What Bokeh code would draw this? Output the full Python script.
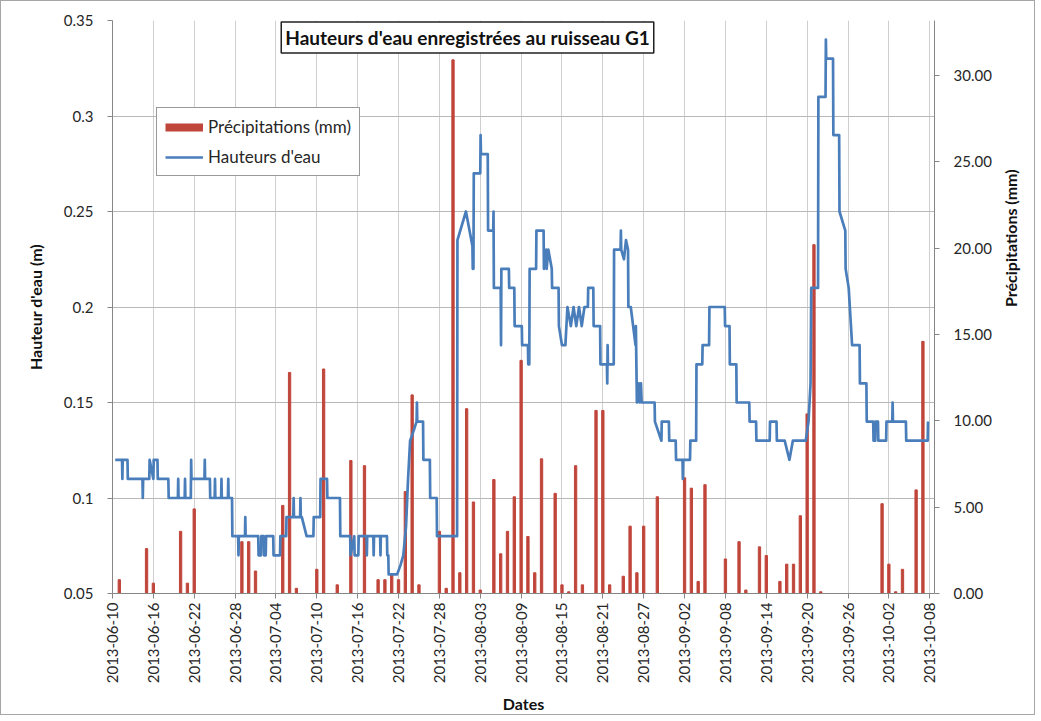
import math
from datetime import datetime, timedelta
from bokeh.plotting import figure
from bokeh.models import (Range1d, LinearAxis, FixedTicker, NumeralTickFormatter,
                          DatetimeTickFormatter, Label, Legend, LegendItem)
from bokeh.embed import file_html
from bokeh.resources import INLINE

# ---------------- data ----------------
START = datetime(2013, 6, 10)

tick_dates = ["2013-06-10", "2013-06-16", "2013-06-22", "2013-06-28", "2013-07-04",
              "2013-07-10", "2013-07-16", "2013-07-22", "2013-07-28", "2013-08-03",
              "2013-08-09", "2013-08-15", "2013-08-21", "2013-08-27", "2013-09-02",
              "2013-09-08", "2013-09-14", "2013-09-20", "2013-09-26", "2013-10-02",
              "2013-10-08"]

left_ticks = [0.05, 0.1, 0.15, 0.2, 0.25, 0.3, 0.35]
right_ticks = [0, 5, 10, 15, 20, 25, 30]

rain_dates = ["2013-06-11", "2013-06-15", "2013-06-16", "2013-06-20", "2013-06-21",
              "2013-06-22", "2013-06-29", "2013-06-30", "2013-07-01", "2013-07-05",
              "2013-07-06", "2013-07-07", "2013-07-10", "2013-07-11", "2013-07-13",
              "2013-07-15", "2013-07-17", "2013-07-19", "2013-07-20", "2013-07-21",
              "2013-07-22", "2013-07-23", "2013-07-24", "2013-07-25", "2013-07-28",
              "2013-07-29", "2013-07-30", "2013-07-31", "2013-08-01", "2013-08-02",
              "2013-08-03", "2013-08-05", "2013-08-06", "2013-08-07", "2013-08-08",
              "2013-08-09", "2013-08-10", "2013-08-11", "2013-08-12", "2013-08-14",
              "2013-08-15", "2013-08-16", "2013-08-17", "2013-08-18", "2013-08-20",
              "2013-08-21", "2013-08-22", "2013-08-24", "2013-08-25", "2013-08-26",
              "2013-08-27", "2013-08-29", "2013-09-02", "2013-09-03", "2013-09-04",
              "2013-09-05", "2013-09-08", "2013-09-10", "2013-09-11", "2013-09-13",
              "2013-09-14", "2013-09-16", "2013-09-17", "2013-09-18", "2013-09-19",
              "2013-09-20", "2013-09-21", "2013-09-22", "2013-10-01", "2013-10-02",
              "2013-10-03", "2013-10-04", "2013-10-06", "2013-10-07"]
rain_mm = [0.8, 2.6, 0.6, 3.6, 0.6,
           4.9, 3.0, 3.0, 1.3, 5.1,
           12.8, 0.3, 1.4, 13.0, 0.5,
           7.7, 7.4, 0.8, 0.8, 1.1,
           0.8, 5.9, 11.5, 0.5, 3.6,
           0.3, 30.9, 1.2, 10.7, 5.3,
           0.2, 6.6, 2.3, 3.6, 5.6,
           13.5, 3.3, 1.2, 7.8, 5.8,
           0.5, 0.1, 7.4, 0.5, 10.6,
           10.6, 0.5, 1.0, 3.9, 1.2,
           3.9, 5.6, 6.7, 6.1, 0.7,
           6.3, 2.0, 3.0, 0.2, 2.7,
           2.2, 0.7, 1.7, 1.7, 4.5,
           10.4, 20.2, 0.1, 5.2, 1.7,
           0.1, 1.4, 6.0, 14.6]

# water level: days since 2013-06-10 and height (m)
level_day = [0.4, 1.4, 1.45, 1.5, 2.2, 2.25, 4.4, 4.45, 4.5, 5.4, 5.45, 6.0, 6.05, 6.6, 6.65,
             8.2, 8.25, 9.6, 9.65, 9.7, 10.6, 10.65, 10.7, 11.5, 11.55, 11.6, 13.5, 13.55,
             13.6, 14.3, 14.35, 15.0, 15.05, 15.1, 15.95, 16.0, 16.05, 16.95, 17.0, 17.05,
             17.55, 17.6,
             18.45, 18.5, 18.55, 19.45, 19.5, 19.55, 21.4, 21.45, 21.8, 21.85, 22.2, 22.25,
             22.5, 22.55, 23.6, 23.65, 24.6, 24.65, 25.5, 25.55, 26.55, 26.6, 26.65, 27.55,
             27.6, 27.65, 27.8, 28.5, 29.5, 29.55, 30.5, 30.55, 31.5, 31.55, 33.4, 33.45,
             34.9, 34.95, 35.5, 35.55, 36.1, 36.15, 37.3, 37.35, 37.4, 38.3, 38.35, 38.4,
             39.3, 39.35, 39.4, 40.3, 40.35, 40.5, 40.55, 41.8, 42.3, 42.7, 43.1, 43.4,
             43.7, 44.2, 44.65, 44.7, 44.75, 45.6, 45.65, 46.6, 46.65, 47.6, 47.65, 50.6,
             50.65,
             51.9, 52.85, 52.9, 53.0, 53.05, 54.0, 54.05, 54.1, 55.1, 55.15, 55.9, 55.95,
             56.0, 57.0, 57.05, 57.1, 58.2, 58.25, 59.0, 59.05, 60.1, 60.15, 61.0, 61.05,
             61.2, 61.25, 62.2, 62.25, 63.3, 63.35, 63.7, 63.75, 64.0, 64.5, 64.55, 65.5,
             65.55, 66.0, 66.5, 66.8, 67.3, 67.7, 68.1, 68.5, 68.9, 69.3, 69.8, 69.85,
             70.6, 70.65, 71.6, 71.65, 72.6, 72.65, 72.7, 72.75, 73.6, 73.65, 74.6, 74.65,
             74.7, 75.1, 75.4, 75.7, 75.75, 76.1, 76.8, 76.85, 77.0, 77.3, 77.4, 77.6, 77.7,
             79.6, 79.65, 80.6, 80.65, 81.7, 81.75, 82.7, 82.75, 83.7, 83.75, 83.8, 84.8,
             84.85, 85.7, 85.75, 86.6, 86.65, 87.6, 87.65, 89.9, 89.95, 90.6, 90.65, 91.6,
             91.65, 93.5, 93.55, 94.5, 94.55, 96.5, 96.55, 97.5, 97.55, 98.7, 99.4, 99.9,
             101.8, 102.2, 102.5, 102.6, 103.6, 103.65, 104.7, 104.75, 104.8, 105.8, 105.85,
             106.7, 106.75, 107.6, 107.65, 108.1, 108.6, 109.7, 109.75, 110.7, 110.75,
             111.7, 111.75, 112.0, 112.05, 112.4, 112.45, 113.6, 113.65, 114.5, 114.55,
             114.6, 116.5, 116.55, 119.7, 119.75]
level_m = [0.12, 0.12, 0.11, 0.12, 0.12, 0.11, 0.11, 0.10, 0.11, 0.11, 0.12, 0.11, 0.12, 0.12, 0.11,
           0.11, 0.10, 0.10, 0.11, 0.10, 0.10, 0.11, 0.10, 0.10, 0.12, 0.11, 0.11, 0.12,
           0.11, 0.11, 0.10, 0.10, 0.11, 0.10, 0.10, 0.11, 0.10, 0.10, 0.11, 0.10,
           0.10, 0.08,
           0.08, 0.07, 0.08, 0.08, 0.09, 0.08, 0.08, 0.07, 0.07, 0.08, 0.08, 0.07,
           0.07, 0.08, 0.08, 0.07, 0.07, 0.08, 0.08, 0.09, 0.09, 0.10, 0.09, 0.09,
           0.10, 0.09, 0.09, 0.08, 0.08, 0.09, 0.09, 0.11, 0.11, 0.10, 0.10, 0.08,
           0.08, 0.07, 0.08, 0.07, 0.07, 0.08, 0.08, 0.07, 0.08, 0.08, 0.07, 0.08,
           0.08, 0.07, 0.08, 0.08, 0.07, 0.07, 0.06, 0.06, 0.065, 0.07, 0.085, 0.11,
           0.13, 0.135, 0.14, 0.15, 0.14, 0.14, 0.12, 0.12, 0.10, 0.10, 0.08, 0.08,
           0.235,
           0.25, 0.232, 0.22, 0.22, 0.27, 0.27, 0.29, 0.28, 0.28, 0.24, 0.24, 0.25,
           0.21, 0.21, 0.18, 0.22, 0.22, 0.21, 0.21, 0.19, 0.19, 0.18, 0.18, 0.17,
           0.17, 0.22, 0.22, 0.24, 0.24, 0.22, 0.23, 0.22, 0.23, 0.22, 0.21, 0.21,
           0.19, 0.18, 0.18, 0.20, 0.19, 0.20, 0.19, 0.20, 0.19, 0.20, 0.20, 0.21,
           0.21, 0.19, 0.19, 0.17, 0.17, 0.16, 0.18, 0.17, 0.17, 0.23, 0.23, 0.24,
           0.23, 0.225, 0.235, 0.23, 0.20, 0.20, 0.18, 0.19, 0.15, 0.16, 0.15, 0.16, 0.15,
           0.15, 0.14, 0.13, 0.14, 0.14, 0.13, 0.13, 0.12, 0.12, 0.11, 0.12, 0.12,
           0.13, 0.13, 0.17, 0.17, 0.18, 0.18, 0.20, 0.20, 0.19, 0.19, 0.17, 0.17,
           0.15, 0.15, 0.14, 0.14, 0.13, 0.13, 0.14, 0.14, 0.13, 0.13, 0.12, 0.13,
           0.13, 0.14, 0.16, 0.21, 0.21, 0.31, 0.31, 0.34, 0.33, 0.33, 0.29,
           0.29, 0.25, 0.24, 0.22, 0.21, 0.18, 0.18, 0.16, 0.16, 0.14,
           0.14, 0.13, 0.13, 0.14, 0.14, 0.13, 0.13, 0.14, 0.14, 0.15,
           0.14, 0.14, 0.13, 0.13, 0.14]

# ---------------- figure ----------------
FONT = "Lato"
TEXT = "#262626"
RED = "#C0453A"
BLUE = "#4A7EBB"

def to_dt(s):
    return datetime.strptime(s, "%Y-%m-%d")

tick_ms = [(to_dt(s) - datetime(1970, 1, 1)).total_seconds() * 1000 for s in tick_dates]
rain_x = [to_dt(s) for s in rain_dates]
level_x = [START + timedelta(days=d) for d in level_day]

p = figure(width=1035, height=715, x_axis_type="datetime",
           output_backend="svg", toolbar_location=None,
           x_range=Range1d(START, START + timedelta(days=120.7)),
           y_range=Range1d(0.05, 0.35),
           min_border_left=111, min_border_right=102,
           min_border_top=19, min_border_bottom=122)
p.styles = {"border": "1px solid #A6A6A6"}
p.outline_line_color = None
p.background_fill_color = "white"
p.border_fill_color = "white"

p.extra_y_ranges = {"rain": Range1d(0, 33.18)}

bars = p.vbar(x=rain_x, top=rain_mm, bottom=0, width=0.34 * 86400000,
              color=RED, y_range_name="rain")
line = p.line(x=level_x, y=level_m, line_color=BLUE, line_width=2.7,
              line_join="round")
# legend key for the bars: a flat bar like the original legend
# (single point below the visible range, so nothing is drawn in the plot)
swatch = p.line(x=[START], y=[0.0], line_color=RED, line_width=8, line_cap="butt")

# axes
xt = FixedTicker(ticks=tick_ms)
p.xaxis.ticker = xt
p.xgrid.ticker = xt
p.xaxis.formatter = DatetimeTickFormatter(days="%Y-%m-%d", months="%Y-%m-%d",
                                          years="%Y-%m-%d", hours="%Y-%m-%d")
p.xaxis.major_label_orientation = math.pi / 2
p.xaxis.axis_label = "Dates"

yt = FixedTicker(ticks=left_ticks)
p.yaxis.ticker = yt
p.ygrid.ticker = yt
p.yaxis.formatter = NumeralTickFormatter(format="0.0[0]")
p.yaxis.axis_label = "Hauteur d'eau (m)"

raxis = LinearAxis(y_range_name="rain", ticker=FixedTicker(ticks=right_ticks),
                   formatter=NumeralTickFormatter(format="0.00"),
                   axis_label="Précipitations (mm)")
p.add_layout(raxis, "right")
raxis.axis_label_orientation = math.pi / 2

for ax in [p.xaxis[0], p.yaxis[0], raxis]:
    ax.axis_line_color = "#868686"
    ax.major_tick_line_color = "#868686"
    ax.major_tick_out = 5
    ax.major_tick_in = 0
    ax.minor_tick_out = 0
    ax.minor_tick_in = 0
    ax.major_label_text_font = FONT
    ax.major_label_text_color = TEXT
    ax.major_label_text_font_size = "15px"
    ax.axis_label_text_font = FONT
    ax.axis_label_text_font_style = "bold"
    ax.axis_label_text_color = "#111111"
    ax.axis_label_text_font_size = "16px"

p.xaxis.major_label_standoff = 4
p.xaxis.axis_label_standoff = 8
p.yaxis.major_label_standoff = 14
p.yaxis.axis_label_standoff = 16
raxis.major_label_standoff = 14
raxis.axis_label_standoff = 16

p.xgrid.grid_line_color = "#CFCFCF"
p.ygrid.grid_line_color = "#B8B8B8"

# title box
title = Label(x=355, y=556, x_units="screen", y_units="screen",
              text="Hauteurs d'eau enregistrées au ruisseau G1",
              text_font=FONT, text_font_style="bold", text_font_size="19px",
              text_color="#111111", text_align="center", text_baseline="middle",
              background_fill_color="white", border_line_color="#222222",
              border_line_width=1.5, padding=4)
p.add_layout(title)

legend = Legend(items=[LegendItem(label="Précipitations (mm)", renderers=[swatch]),
                       LegendItem(label="Hauteurs d'eau", renderers=[line])],
                location=(44, 417), glyph_width=38, glyph_height=20,
                label_text_font=FONT, label_text_font_size="17px",
                label_text_color=TEXT, label_standoff=5, label_height=20,
                spacing=9, padding=8, margin=0,
                border_line_color="#333333", border_line_width=1,
                background_fill_color="white", background_fill_alpha=1)
p.add_layout(legend)

open("out.html", "w").write(file_html(p, INLINE))
